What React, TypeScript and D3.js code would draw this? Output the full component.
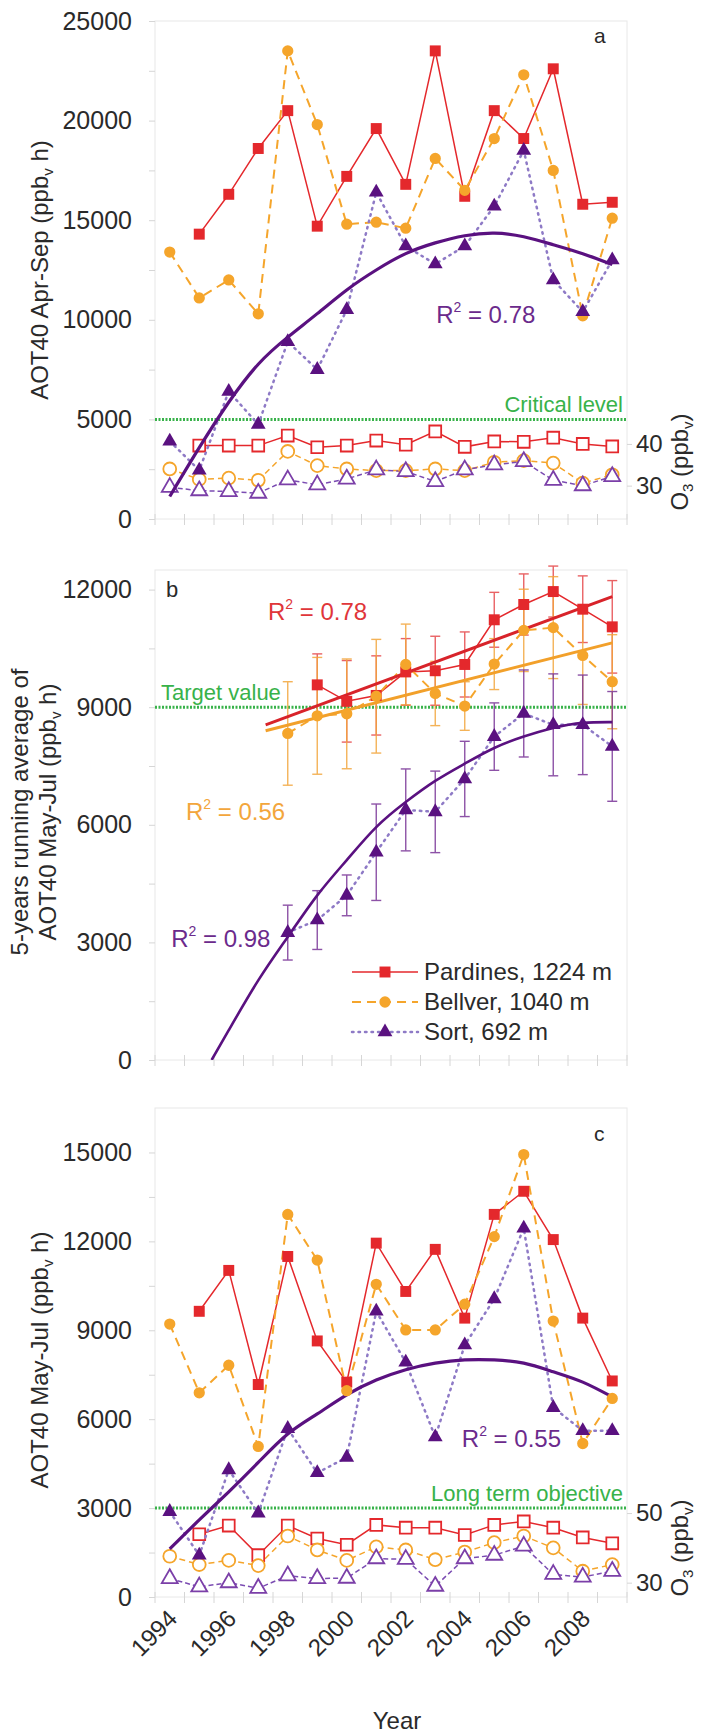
import React, { useRef, useEffect } from 'react';
import * as d3 from 'd3';

const years = [1994, 1995, 1996, 1997, 1998, 1999, 2000, 2001, 2002, 2003, 2004, 2005, 2006, 2007, 2008, 2009];

// (a) AOT40 Apr-Sep and O3 means
const aPardines = [null, 14300, 16300, 18600, 20500, 14700, 17200, 19600, 16800, 23500, 16200, 20500, 19100, 22600, 15800, 15900];
const aBellver = [13400, 11100, 12000, 10300, 23500, 19800, 14800, 14900, 14600, 18100, 16500, 19100, 22300, 17500, 10200, 15100];
const aSort = [3900, 2450, 6400, 4750, 8900, 7500, 10500, 16400, 13700, 12800, 13700, 15700, 18500, 12000, 10400, 13000];
const aSortFit = [1130, 3580, 5860, 7770, 9130, 10310, 11500, 12500, 13320, 13860, 14220, 14350, 14170, 13770, 13320, 12770];
const aPardinesO3 = [null, 39.6, 39.6, 39.6, 42.0, 39.2, 39.6, 40.8, 39.8, 43.0, 39.3, 40.6, 40.5, 41.5, 40.0, 39.4];
const aBellverO3 = [34.0, 31.5, 31.8, 31.3, 38.2, 34.8, 34.0, 33.6, 33.6, 34.0, 33.6, 35.6, 36.0, 35.4, 30.6, 32.6];
const aSortO3 = [29.6, 28.8, 28.6, 28.2, 31.4, 30.2, 31.6, 33.8, 33.4, 31.0, 33.8, 35.0, 35.8, 31.3, 30.0, 32.2];

// (b) 5-years running average of AOT40 May-Jul
const bPardines = [null, null, null, null, null, 9570, 9150, 9300, 9900, 9930, 10090, 11230, 11620, 11950, 11500, 11050];
const bPardinesErr = [null, null, null, null, null, 790, 1040, 1010, 850, 880, 830, 700, 780, 650, 850, 1180];
const bBellver = [null, null, null, null, 8330, 8780, 8830, 9280, 10090, 9350, 9030, 10100, 10960, 11030, 10320, 9650];
const bBellverErr = [null, null, null, null, 1320, 1490, 1400, 1450, 1030, 820, 620, 650, 1050, 1300, 1250, 1200];
const bSort = [null, null, null, null, 3250, 3570, 4200, 5300, 6380, 6330, 7170, 8250, 8840, 8550, 8550, 8000];
const bSortErr = [null, null, null, null, 700, 750, 520, 1230, 1045, 1040, 960, 860, 1110, 1300, 1270, 1400];
const bPardinesTrend = [[1997.25, 8550], [2009, 11820]];
const bBellverTrend = [[1997.25, 8400], [2009, 10640]];
const bSortFitYears = [1995.42, 1996, 1997, 1998, 1999, 2000, 2001, 2002, 2003, 2004, 2005, 2006, 2007, 2008, 2009];
const bSortFit = [0, 760, 2030, 3140, 4200, 5100, 5940, 6580, 7120, 7560, 7960, 8250, 8470, 8600, 8620];

// (c) AOT40 May-Jul and O3 means
const cPardines = [null, 9640, 11020, 7170, 11490, 8640, 7250, 11940, 10310, 11730, 9410, 12910, 13690, 12060, 9410, 7290];
const cBellver = [9210, 6890, 7820, 5080, 12910, 11370, 6960, 10550, 9010, 9010, 9880, 12160, 14930, 9310, 5180, 6700];
const cSort = [2880, 1410, 4290, 2830, 5680, 4190, 4710, 9640, 7920, 5400, 8500, 10060, 12440, 6390, 5610, 5610];
const cSortFit = [1620, 2600, 3550, 4540, 5500, 6180, 6820, 7320, 7670, 7890, 8000, 8000, 7890, 7600, 7250, 6750];
const cPardinesO3 = [null, 43.9, 46.4, 37.9, 46.4, 42.7, 40.9, 46.6, 45.8, 45.8, 43.7, 46.6, 47.6, 45.8, 43.0, 41.3];
const cBellverO3 = [37.6, 35.2, 36.4, 34.9, 43.4, 39.4, 36.4, 40.3, 39.4, 36.6, 38.8, 41.5, 43.4, 40.0, 33.3, 35.2];
const cSortO3 = [31.2, 28.8, 30.0, 28.4, 32.0, 31.2, 31.3, 36.9, 36.7, 29.0, 36.9, 37.9, 40.5, 32.4, 31.6, 33.3];

const yearLabels = [1994, 1996, 1998, 2000, 2002, 2004, 2006, 2008];
const legendNames = ['Pardines, 1224 m', 'Bellver, 1040 m', 'Sort, 692 m'];

const FONT = '"Liberation Sans", Arial, Helvetica, sans-serif';
const RED = '#e4282c';
const ORANGE = '#f5a52b';
const PURPLE = '#5a1180';
const LILAC = '#8e7ac6';
const GREEN = '#38b24a';
const INK = '#2a2a2a';

const App = () => {
    const svgRef = useRef(null);

    useEffect(() => {
        const svg = d3.select(svgRef.current);
        svg.selectAll('*').remove();
        svg.attr('font-family', FONT);

        const x = d3.scaleLinear().domain([1993.5, 2009.5]).range([155, 627]);
        const styles = {
            pardines: { line: RED, lw: 1.5, dash: null, type: d3.symbolSquare, size: 120, fill: RED },
            bellver: { line: ORANGE, lw: 2, dash: '9,6', type: d3.symbolCircle, size: 100, fill: ORANGE },
            sort: { line: LILAC, lw: 2.5, dash: '1.5,5', type: d3.symbolTriangle, size: 95, fill: PURPLE },
        };
        const o3Styles = {
            pardines: { line: RED, lw: 1.5, dash: null, type: d3.symbolSquare, size: 140, fill: '#fff', stroke: RED },
            bellver: { line: ORANGE, lw: 1.5, dash: '6,4', type: d3.symbolCircle, size: 130, fill: '#fff', stroke: ORANGE },
            sort: { line: '#7b4cb2', lw: 1.5, dash: '5,3', type: d3.symbolTriangle, size: 110, fill: '#fff', stroke: '#7b3fa8' },
        };

        const frame = (y, major, minor) => {
            const g = svg.append('g');
            const [y0, y1] = y.range();
            g.append('rect').attr('x', 155).attr('y', y1).attr('width', 472).attr('height', y0 - y1)
                .attr('fill', 'none').attr('stroke', '#e8e8e8');
            const minorAxis = g.append('g').attr('transform', 'translate(155,0)')
                .call(d3.axisLeft(y).tickValues(minor).tickSize(6).tickFormat(() => ''));
            minorAxis.select('.domain').remove();
            minorAxis.selectAll('line').attr('stroke', '#d6d6d6');
            const labels = g.append('g').attr('transform', 'translate(155,0)')
                .call(d3.axisLeft(y).tickValues(major).tickSize(0).tickPadding(23).tickFormat(d3.format('d')));
            labels.select('.domain').remove();
            labels.attr('font-size', 25).attr('font-family', FONT);
            labels.selectAll('text').attr('fill', INK);
            // category boundaries along the bottom
            g.append('g').selectAll('line').data(d3.range(1993.5, 2010, 1)).join('line')
                .attr('x1', (d) => x(d)).attr('x2', (d) => x(d))
                .attr('y1', y0 - 5).attr('y2', y0 + 6).attr('stroke', '#d6d6d6');
            return g;
        };

        const drawLine = (g, pts, y, s, curve) => {
            const line = d3.line().x((d) => x(d[0])).y((d) => y(d[1]));
            if (curve) line.curve(curve);
            g.append('path').attr('d', line(pts)).attr('fill', 'none')
                .attr('stroke', s.line).attr('stroke-width', s.lw)
                .attr('stroke-dasharray', s.dash).attr('stroke-linecap', s.dash && s.dash.startsWith('1.5') ? 'round' : 'butt');
        };

        const toPts = (vals) => years.map((yr, i) => [yr, vals[i]]).filter((d) => d[1] != null);

        const drawMarkers = (g, pts, y, s) => {
            g.append('g').selectAll('path').data(pts).join('path')
                .attr('transform', (d) => `translate(${x(d[0])},${y(d[1])})`)
                .attr('d', d3.symbol(s.type, s.size)())
                .attr('fill', s.fill)
                .attr('stroke', s.stroke || 'none')
                .attr('stroke-width', s.stroke ? 1.8 : 0);
        };

        const drawErr = (g, vals, errs, y, color) => {
            const pts = years.map((yr, i) => [yr, vals[i], errs[i]]).filter((d) => d[1] != null);
            const eg = g.append('g').attr('stroke', color).attr('stroke-width', 1.4).attr('opacity', 0.85);
            pts.forEach((d) => {
                const cx = x(d[0]);
                const top = y(d[1] + d[2]);
                const bot = y(d[1] - d[2]);
                eg.append('line').attr('x1', cx).attr('x2', cx).attr('y1', top).attr('y2', bot);
                eg.append('line').attr('x1', cx - 5).attr('x2', cx + 5).attr('y1', top).attr('y2', top);
                eg.append('line').attr('x1', cx - 5).attr('x2', cx + 5).attr('y1', bot).attr('y2', bot);
            });
        };

        const refLine = (g, y, v, label, anchor) => {
            g.append('line').attr('x1', 155).attr('x2', 627).attr('y1', y(v)).attr('y2', y(v))
                .attr('stroke', GREEN).attr('stroke-width', 3).attr('stroke-dasharray', '2,1.5');
            g.append('text').attr('x', anchor === 'end' ? 623 : 161).attr('y', y(v) - 7)
                .attr('text-anchor', anchor).attr('font-size', 22).attr('fill', GREEN).text(label);
        };

        const r2 = (g, px, py, value, color) => {
            const t = g.append('text').attr('x', px).attr('y', py).attr('font-size', 24).attr('fill', color);
            t.append('tspan').text('R');
            t.append('tspan').text('2').attr('font-size', 14).attr('dy', -11);
            t.append('tspan').text(' = ' + value).attr('dy', 11);
        };

        const aotTitle = (g, cx, cy, lines) => {
            const t = g.append('text').attr('transform', `translate(${cx},${cy}) rotate(-90)`)
                .attr('text-anchor', 'middle').attr('font-size', 24).attr('fill', INK);
            lines.forEach((ln, i) => {
                const dy = i === 0 ? 0 : 28;
                if (ln.sub) {
                    t.append('tspan').attr('x', 0).attr('dy', dy).text(ln.text);
                    t.append('tspan').attr('font-size', 15).attr('dy', 5).text('v');
                    t.append('tspan').attr('dy', -5).text(' h)');
                } else {
                    t.append('tspan').attr('x', 0).attr('dy', dy).text(ln.text);
                }
            });
        };

        const o3Axis = (g, o, ticks, cy) => {
            const ax = g.append('g').attr('transform', 'translate(627,0)')
                .call(d3.axisRight(o).tickValues(ticks).tickSize(5).tickPadding(4));
            ax.select('.domain').remove();
            ax.attr('font-size', 24).attr('font-family', FONT);
            ax.selectAll('line').attr('stroke', '#d6d6d6');
            ax.selectAll('text').attr('fill', INK);
            const t = g.append('text').attr('transform', `translate(688,${cy}) rotate(-90)`)
                .attr('text-anchor', 'middle').attr('font-size', 24).attr('fill', INK);
            t.append('tspan').text('O');
            t.append('tspan').attr('font-size', 15).attr('dy', 5).text('3');
            t.append('tspan').attr('dy', -5).text(' (ppb');
            t.append('tspan').attr('font-size', 15).attr('dy', 5).text('v');
            t.append('tspan').attr('dy', -5).text(')');
        };

        // ---------- panel a ----------
        const ya = d3.scaleLinear().domain([0, 25000]).range([519, 21]);
        const oa = d3.scaleLinear().domain([22.0, 141.4]).range([519, 21]);
        const ga = frame(ya, d3.range(0, 25001, 5000), d3.range(0, 25001, 2500));
        refLine(ga, ya, 5000, 'Critical level', 'end');
        drawLine(ga, toPts(aPardinesO3), oa, o3Styles.pardines);
        drawLine(ga, toPts(aBellverO3), oa, o3Styles.bellver);
        drawLine(ga, toPts(aSortO3), oa, o3Styles.sort);
        drawMarkers(ga, toPts(aPardinesO3), oa, o3Styles.pardines);
        drawMarkers(ga, toPts(aBellverO3), oa, o3Styles.bellver);
        drawMarkers(ga, toPts(aSortO3), oa, o3Styles.sort);
        drawLine(ga, toPts(aPardines), ya, styles.pardines);
        drawLine(ga, toPts(aBellver), ya, styles.bellver);
        drawLine(ga, toPts(aSort), ya, styles.sort);
        drawLine(ga, toPts(aSortFit), ya, { line: PURPLE, lw: 3.2, dash: null }, d3.curveNatural);
        drawMarkers(ga, toPts(aPardines), ya, styles.pardines);
        drawMarkers(ga, toPts(aBellver), ya, styles.bellver);
        drawMarkers(ga, toPts(aSort), ya, styles.sort);
        r2(ga, x(2003.03), ya(9850), '0.78', '#6b2a8c');
        ga.append('text').attr('x', 594).attr('y', 43).attr('font-size', 21).attr('fill', INK).text('a');
        aotTitle(ga, 48, 270, [{ text: 'AOT40 Apr-Sep (ppb', sub: true }]);
        o3Axis(ga, oa, [30, 40], 462);

        // ---------- panel b ----------
        const yb = d3.scaleLinear().domain([0, 12500]).range([1060, 570]);
        const gb = frame(yb, d3.range(0, 12001, 3000), d3.range(0, 12001, 1500));
        svg.append('clipPath').attr('id', 'clipB').append('rect')
            .attr('x', 155).attr('y', 570).attr('width', 472).attr('height', 490);
        refLine(gb, yb, 9000, 'Target value', 'start');
        drawErr(gb, bPardines, bPardinesErr, yb, '#e6474a');
        drawErr(gb, bBellver, bBellverErr, yb, '#f3a63c');
        drawErr(gb, bSort, bSortErr, yb, '#7a3598');
        drawLine(gb, toPts(bPardines), yb, styles.pardines);
        drawLine(gb, toPts(bBellver), yb, styles.bellver);
        drawLine(gb, toPts(bSort), yb, styles.sort);
        drawLine(gb, bPardinesTrend, yb, { line: '#d8232a', lw: 3, dash: null });
        drawLine(gb, bBellverTrend, yb, { line: '#f2a02a', lw: 3, dash: null });
        const fitB = gb.append('g').attr('clip-path', 'url(#clipB)');
        drawLine(fitB, bSortFitYears.map((yr, i) => [yr, bSortFit[i]]), yb, { line: PURPLE, lw: 2.6, dash: null }, d3.curveNatural);
        drawMarkers(gb, toPts(bPardines), yb, styles.pardines);
        drawMarkers(gb, toPts(bBellver), yb, styles.bellver);
        drawMarkers(gb, toPts(bSort), yb, styles.sort);
        r2(gb, x(1997.33), yb(11230), '0.78', '#e0363a');
        r2(gb, x(1994.55), yb(6120), '0.56', '#f3a63c');
        r2(gb, x(1994.05), yb(2890), '0.98', '#6b2a8c');
        gb.append('text').attr('x', 166).attr('y', 597).attr('font-size', 22).attr('fill', INK).text('b');
        aotTitle(gb, 28, 812, [{ text: '5-years running average of' }, { text: 'AOT40 May-Jul (ppb', sub: true }]);

        // legend
        const leg = gb.append('g');
        [styles.pardines, styles.bellver, styles.sort].forEach((s, i) => {
            const ly = 972 + i * 30;
            const row = leg.append('g');
            row.append('line').attr('x1', 352).attr('x2', 418).attr('y1', ly).attr('y2', ly)
                .attr('stroke', s.line).attr('stroke-width', s.lw).attr('stroke-dasharray', s.dash)
                .attr('stroke-linecap', s.dash && s.dash.startsWith('1.5') ? 'round' : 'butt');
            row.append('path').attr('transform', `translate(385,${ly})`)
                .attr('d', d3.symbol(s.type, s.size)()).attr('fill', s.fill);
            row.append('text').attr('x', 424).attr('y', ly + 8).attr('font-size', 24).attr('fill', INK).text(legendNames[i]);
        });

        // ---------- panel c ----------
        const yc = d3.scaleLinear().domain([0, 16500]).range([1597, 1108]);
        const oc = d3.scaleLinear().domain([25.88, 166.4]).range([1597, 1108]);
        const gc = frame(yc, d3.range(0, 15001, 3000), d3.range(0, 16001, 1500));
        refLine(gc, yc, 3000, 'Long term objective', 'end');
        drawLine(gc, toPts(cPardinesO3), oc, o3Styles.pardines);
        drawLine(gc, toPts(cBellverO3), oc, o3Styles.bellver);
        drawLine(gc, toPts(cSortO3), oc, o3Styles.sort);
        drawMarkers(gc, toPts(cPardinesO3), oc, o3Styles.pardines);
        drawMarkers(gc, toPts(cBellverO3), oc, o3Styles.bellver);
        drawMarkers(gc, toPts(cSortO3), oc, o3Styles.sort);
        drawLine(gc, toPts(cPardines), yc, styles.pardines);
        drawLine(gc, toPts(cBellver), yc, styles.bellver);
        drawLine(gc, toPts(cSort), yc, styles.sort);
        drawLine(gc, toPts(cSortFit), yc, { line: PURPLE, lw: 3.2, dash: null }, d3.curveNatural);
        drawMarkers(gc, toPts(cPardines), yc, styles.pardines);
        drawMarkers(gc, toPts(cBellver), yc, styles.bellver);
        drawMarkers(gc, toPts(cSort), yc, styles.sort);
        r2(gc, x(2003.9), yc(5050), '0.55', '#6b2a8c');
        gc.append('text').attr('x', 594).attr('y', 1141).attr('font-size', 21).attr('fill', INK).text('c');
        aotTitle(gc, 48, 1360, [{ text: 'AOT40 May-Jul (ppb', sub: true }]);
        o3Axis(gc, oc, [30, 50], 1548);

        // year labels
        gc.append('g').selectAll('text').data(yearLabels).join('text')
            .attr('transform', (d) => `translate(${x(d) + 9},${1620}) rotate(-45)`)
            .attr('text-anchor', 'end').attr('font-size', 24).attr('fill', INK)
            .text((d) => d);
        gc.append('text').attr('x', 397).attr('y', 1729).attr('text-anchor', 'middle')
            .attr('font-size', 24).attr('fill', INK).text('Year');
    }, []);

    return (
        <div style={{ position: 'absolute', left: 0, top: 0, width: 711, height: 1733, background: '#fff' }}>
            <svg ref={svgRef} width={711} height={1733} style={{ display: 'block' }} />
        </div>
    );
};

export default App;
